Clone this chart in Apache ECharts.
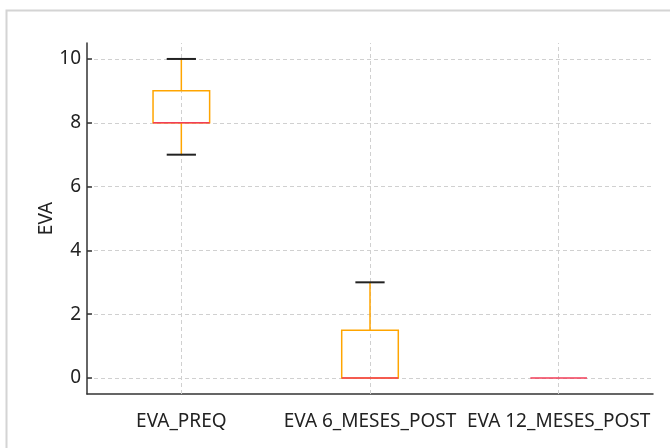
<!DOCTYPE html>
<html>
<head>
<meta charset="utf-8">
<script src="https://cdn.jsdelivr.net/npm/echarts@6/dist/echarts.min.js"></script>
<style>html,body{margin:0;padding:0;background:#fff}#c{width:670px;height:448px}</style>
</head>
<body>
<div id="c"></div>
<script>
const categories = ['EVA_PREQ', 'EVA 6_MESES_POST', 'EVA 12_MESES_POST'];
// [min, Q1, median, Q3, max]
const boxMin = [7, 0, 0];
const boxQ1 = [8, 0, 0];
const boxMedian = [8, 0, 0];
const boxQ3 = [9, 1.5, 0];
const boxMax = [10, 3, 0];
const yTicks = [0, 2, 4, 6, 8, 10];

const boxData = categories.map((c, i) => [i, boxMin[i], boxQ1[i], boxMedian[i], boxQ3[i], boxMax[i]]);

const chart = echarts.init(document.getElementById('c'), null, {renderer: 'canvas'});
const FONT = 'Noto Sans';
const FS = 19;
const option = {
  animation: false,
  backgroundColor: '#fff',
  graphic: [{
    type: 'rect', left: 4, top: 8, silent: true,
    shape: {x: 0, y: 0, width: 700, height: 500},
    style: {fill: 'none', stroke: '#d4d4d4', lineWidth: 2}
  }],
  grid: {left: 87, right: 17, top: 43, bottom: 54, containLabel: false},
  xAxis: {
    type: 'category', data: categories, boundaryGap: true,
    axisLine: {onZero: false, lineStyle: {color: '#333', width: 1.5}},
    axisTick: {inside: true, alignWithLabel: true, length: 5, lineStyle: {color: '#333', width: 1.5}},
    axisLabel: {color: '#222', fontFamily: FONT, fontSize: FS, margin: 18, interval: 0, hideOverlap: false},
    splitLine: {show: false}
  },
  yAxis: {
    type: 'value', min: -0.5, max: 10.5, splitNumber: 5,
    name: 'EVA', nameLocation: 'middle', nameGap: 31, nameRotate: 90, nameMoveOverlap: false,
    nameTextStyle: {color: '#222', fontFamily: FONT, fontSize: FS},
    axisLine: {show: true, lineStyle: {color: '#333', width: 1.5}},
    axisTick: {show: true, inside: true, length: 5, lineStyle: {color: '#333', width: 1.5}},
    axisLabel: {color: '#222', fontFamily: FONT, fontSize: FS, margin: 6, showMinLabel: false, showMaxLabel: false,
      formatter: v => (yTicks.indexOf(v) >= 0 ? String(v) : '')},
    splitLine: {show: true, showMinLine: false, showMaxLine: false, lineStyle: {color: '#d0d0d0', type: [4, 3], width: 1}}
  },
  series: [{
    type: 'custom',
    data: boxData,
    encode: {x: 0, y: [1, 2, 3, 4, 5]},
    z: 5,
    markLine: {
      silent: true, symbol: 'none', label: {show: false},
      lineStyle: {color: '#d0d0d0', type: [4, 3], width: 1},
      data: categories.map(c => ({xAxis: c}))
    },
    renderItem: function (params, api) {
      const idx = api.value(0);
      const band = api.size([1, 0])[0];
      const bw = band * 0.30, cw = band * 0.155;
      const pMin = api.coord([idx, api.value(1)]);
      const pQ1 = api.coord([idx, api.value(2)]);
      const pMed = api.coord([idx, api.value(3)]);
      const pQ3 = api.coord([idx, api.value(4)]);
      const pMax = api.coord([idx, api.value(5)]);
      const x = pMed[0];
      const orange = '#FFA500', red = '#F23D57', black = '#222';
      const children = [];
      const line = (x1, y1, x2, y2, color, w) => ({type: 'line', shape: {x1, y1, x2, y2}, style: {stroke: color, lineWidth: w}});
      if (pQ1[1] !== pMin[1]) children.push(line(x, pQ1[1], x, pMin[1], orange, 1.5));
      if (pQ3[1] !== pMax[1]) children.push(line(x, pQ3[1], x, pMax[1], orange, 1.5));
      if (pQ3[1] !== pQ1[1]) children.push({type: 'rect', shape: {x: x - bw / 2, y: pQ3[1], width: bw, height: pQ1[1] - pQ3[1]}, style: {fill: 'none', stroke: orange, lineWidth: 1.5}});
      if (pMin[1] !== pQ1[1]) children.push(line(x - cw / 2, pMin[1], x + cw / 2, pMin[1], black, 2));
      if (pMax[1] !== pQ3[1]) children.push(line(x - cw / 2, pMax[1], x + cw / 2, pMax[1], black, 2));
      children.push(line(x - bw / 2, pMed[1], x + bw / 2, pMed[1], red, 1.5));
      return {type: 'group', children};
    }
  }]
};
chart.setOption(option);
</script>
</body>
</html>
